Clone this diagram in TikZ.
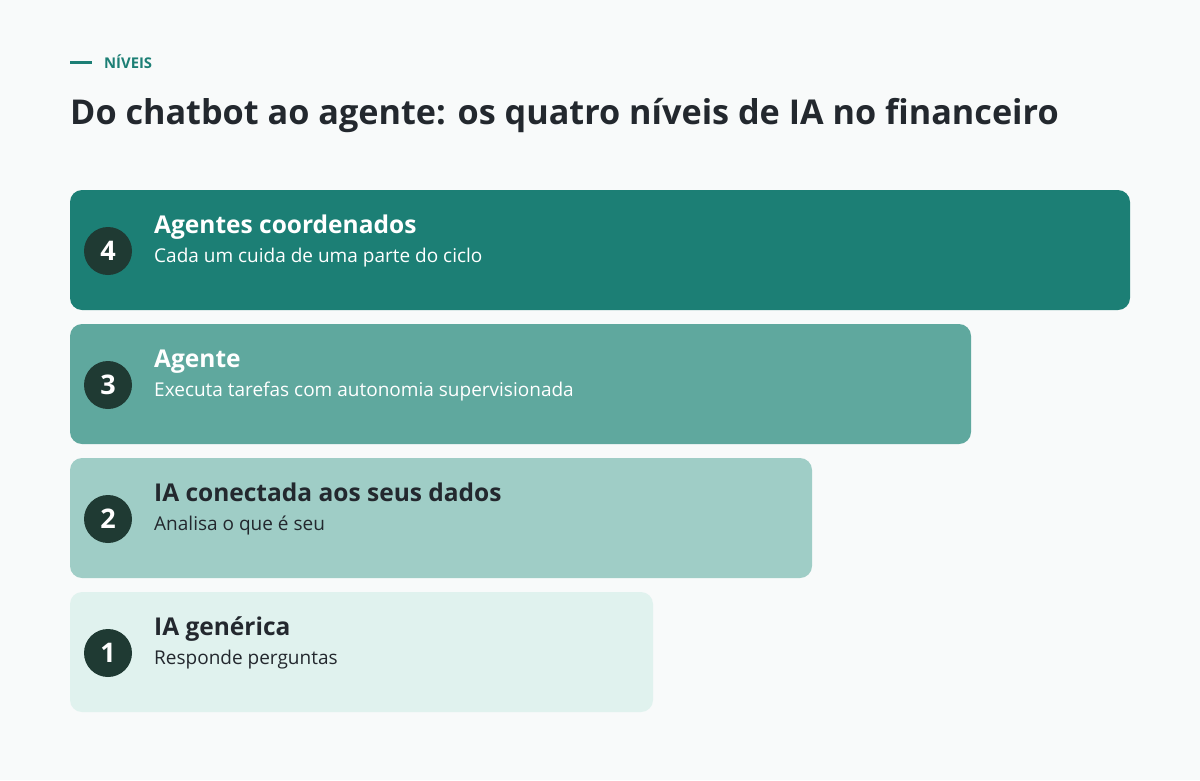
\documentclass[tikz,border=0pt]{standalone}
\usepackage{fontspec}
\setmainfont{Open Sans}
\definecolor{bg}{HTML}{F8FAFA}
\definecolor{teal4}{HTML}{1C7F75}
\definecolor{teal3}{HTML}{5FA89E}
\definecolor{teal2}{HTML}{9FCDC6}
\definecolor{teal1}{HTML}{E0F2EE}
\definecolor{dark}{HTML}{1F3A33}
\definecolor{ink}{HTML}{23282E}
\tikzset{
  x=1pt,y=-1pt,
  badge/.style={circle, fill=dark, minimum size=48pt, inner sep=0pt, text=white, font=\fontsize{27}{27}\selectfont\bfseries},
  ltitle/.style={anchor=base west, inner sep=0pt, font=\fontsize{24.5}{24.5}\selectfont\bfseries},
  lsub/.style={anchor=base west, inner sep=0pt, font=\fontsize{19}{19}\selectfont},
}
\begin{document}
\begin{tikzpicture}
\fill[bg] (0,0) rectangle (1200,780);
\useasboundingbox (0,0) rectangle (1200,780);
\draw[teal4, line width=3pt] (70,62) coordinate (d1) -- (92,62) coordinate (d2);
\node[anchor=west, inner sep=0pt, text=teal4, font=\fontsize{14.8}{14.8}\selectfont\bfseries] (kicker) at (104,62) {NÍVEIS};
\node[anchor=base west, inner sep=0pt, text=ink, font=\fontsize{34.2}{34.2}\selectfont\bfseries] (title) at (70,124) {Do chatbot ao agente: os quatro níveis de IA no financeiro};
% boxes
\fill[teal4, rounded corners=12pt] (70,190) rectangle (1130,310);
\fill[teal3, rounded corners=12pt] (70,324) rectangle (971,444);
\fill[teal2, rounded corners=12pt] (70,458) rectangle (812,578);
\fill[teal1, rounded corners=12pt] (70,592) rectangle (653,712);
\node[badge] (b4) at (108,251) {4};
\node[badge] (b3) at (108,385) {3};
\node[badge] (b2) at (108,519) {2};
\node[badge] (b1) at (108,653) {1};
\node[ltitle, text=white] (t4) at (154,233) {Agentes coordenados};
\node[lsub, text=white] (s4) at (154,262) {Cada um cuida de uma parte do ciclo};
\node[ltitle, text=white] (t3) at (154,367) {Agente};
\node[lsub, text=white] (s3) at (154,396) {Executa tarefas com autonomia supervisionada};
\node[ltitle, text=ink] (t2) at (154,501) {IA conectada aos seus dados};
\node[lsub, text=ink] (s2) at (154,530) {Analisa o que é seu};
\node[ltitle, text=ink] (t1) at (154,635) {IA genérica};
\node[lsub, text=ink] (s1) at (154,664) {Responde perguntas};
\end{tikzpicture}
\end{document}
